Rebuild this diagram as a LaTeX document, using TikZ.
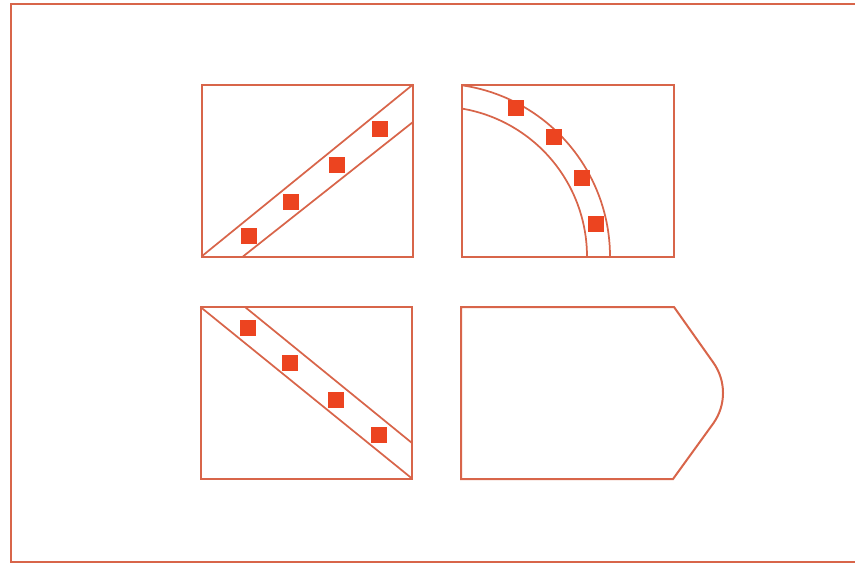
\documentclass[tikz,border=0pt]{standalone}
\begin{document}
\begin{tikzpicture}[x=0.75pt,y=-0.75pt,
  edge/.style={draw=lineclr,line width=1.5pt,line join=miter},
  thin edge/.style={draw=lineclr,line width=1.3pt},
  marker/.style={fill=markclr,draw=none}]
\definecolor{lineclr}{HTML}{D8654A}
\definecolor{markclr}{HTML}{EC4420}
\useasboundingbox (0,0) rectangle (855,565);
\clip (0,0) rectangle (855,565);
% outer frame (right side beyond the picture)
\draw[edge] (870,4) -- (10.5,4) -- (10.5,562) -- (870,562);
% box 1: rising diagonal band
\draw[edge] (201.5,84.5) rectangle (413,256.5);
\draw[thin edge] (201.5,256.5) -- (413,84.5);
\draw[thin edge] (243,256.5) -- (413,122);
\foreach \p in {(249,236),(291,202),(337,165),(380,129)}
  \fill[marker] \p ++(-8,-8) rectangle ++(16,16);
% box 2: quarter ring
\draw[edge] (462,84.5) rectangle (674,256.5);
\begin{scope}
\clip (462,84.5) rectangle (674,256.5);
\draw[thin edge] (437,256.5) ++(0:173) arc[start angle=0,end angle=-100,radius=173];
\draw[thin edge] (437,256.5) ++(0:150) arc[start angle=0,end angle=-100,radius=150];
\end{scope}
\foreach \p in {(516,108),(554,137),(582,178),(596,224)}
  \fill[marker] \p ++(-8,-8) rectangle ++(16,16);
% box 3: falling diagonal band
\draw[edge] (200.5,307) rectangle (412,478.5);
\draw[thin edge] (200.5,307) -- (412,478.5);
\draw[thin edge] (245,307) -- (412,443);
\foreach \p in {(248,328),(290,363),(336,400),(379,435)}
  \fill[marker] \p ++(-8,-8) rectangle ++(16,16);
% box 4: pointed shape with rounded nose
\draw[edge] (461,307) -- (674,307) -- (713.4,362.7)
  arc[start angle=-35.2,end angle=35.2,radius=52.5]
  -- (673,479) -- (461,479) -- cycle;
\end{tikzpicture}
\end{document}
